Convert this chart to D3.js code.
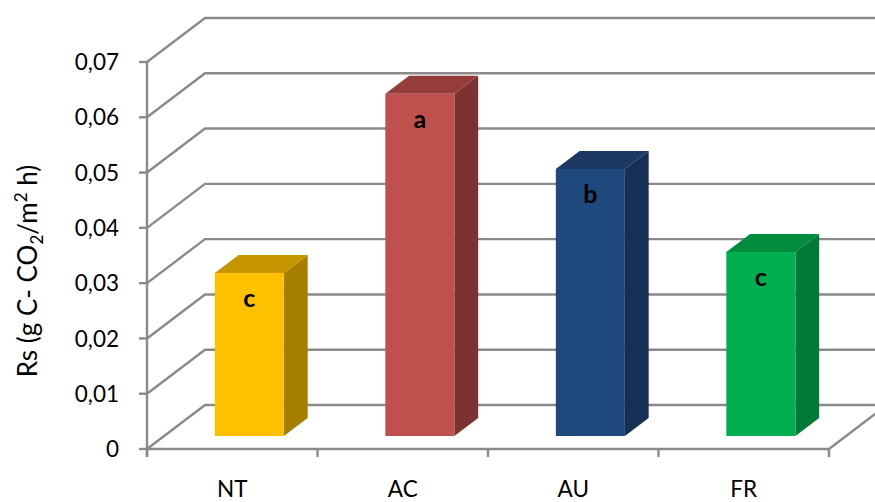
<!DOCTYPE html>
<html>
<head>
<meta charset="utf-8">
<script src="https://cdn.jsdelivr.net/npm/d3@7"></script>
<style>
  html, body { margin: 0; padding: 0; background: #fff; }
  svg { display: block; }
</style>
</head>
<body>
<svg id="chart" width="875" height="502"></svg>
<script>
// ---- data ----
const categories = ["NT", "AC", "AU", "FR"];
const values = [0.0295, 0.0619, 0.0483, 0.0333];
const letters = ["c", "a", "b", "c"];
const tickValues = [0, 0.01, 0.02, 0.03, 0.04, 0.05, 0.06, 0.07];
const tickLabels = ["0", "0,01", "0,02", "0,03", "0,04", "0,05", "0,06", "0,07"];
const frontColors = ["#FFC000", "#C0504D", "#1F497D", "#00B050"];
const topColors = ["#C69600", "#953D3B", "#1B3962", "#008C3E"];
const sideColors = ["#A67E00", "#7C3230", "#162F52", "#007A36"];

// ---- layout ----
const svg = d3.select("#chart");
const x0 = 147, x1 = 829;          // front plane horizontal extent
const y = d3.scaleLinear().domain([0, 0.07]).range([449, 62]);
const depthDX = 58, depthDY = -44; // full depth offset (oblique)
const x = d3.scaleBand().domain(categories).range([x0, x1]).padding(0);
const barFrac = 0.405;
const dFront = 0.295, dBack = 0.705;
const gridColor = "#8a8a8a";
const font = "Lato, 'Open Sans', sans-serif";

const grid = svg.append("g");
tickValues.forEach(v => {
  const yf = y(v);
  grid.append("path")
    .attr("d", `M${x0},${yf} L${x0 + depthDX},${yf + depthDY} L${x1 + depthDX + 20},${yf + depthDY}`)
    .attr("fill", "none").attr("stroke", gridColor).attr("stroke-width", 2.4)
    .attr("stroke-linejoin", "miter");
});
grid.append("path")
  .attr("d", `M${x0},${y(0)} L${x1},${y(0)} L${x1 + depthDX},${y(0) + depthDY}`)
  .attr("fill", "none").attr("stroke", gridColor).attr("stroke-width", 2.4);
grid.append("line")
  .attr("x1", x0).attr("x2", x0).attr("y1", y(0.07)).attr("y2", y(0) + 8)
  .attr("stroke", gridColor).attr("stroke-width", 2.4);
tickValues.forEach(v => {
  grid.append("line").attr("x1", x0 - 8).attr("x2", x0).attr("y1", y(v)).attr("y2", y(v))
    .attr("stroke", gridColor).attr("stroke-width", 2.4);
});
const bounds = categories.map(c => x(c)).concat([x1]);
bounds.forEach(bx => {
  grid.append("line").attr("x1", bx).attr("x2", bx).attr("y1", y(0)).attr("y2", y(0) + 8)
    .attr("stroke", gridColor).attr("stroke-width", 2.4);
});

svg.append("g").selectAll("text").data(tickValues).join("text")
  .attr("x", 119).attr("y", d => y(d)).attr("dy", "0.36em")
  .attr("text-anchor", "end").attr("font-family", font).attr("font-size", 22.5)
  .attr("fill", "#000").text((d, i) => tickLabels[i]);

svg.append("g").selectAll("text").data(categories).join("text")
  .attr("x", d => x(d) + x.bandwidth() / 2).attr("y", 497)
  .attr("text-anchor", "middle").attr("font-family", font).attr("font-size", 22.5)
  .attr("fill", "#000").text(d => d);

const bars = svg.append("g");
categories.forEach((c, i) => {
  const bw = x.bandwidth() * barFrac;
  const cx = x(c) + x.bandwidth() / 2;
  const fx = depthDX * dFront, fy = depthDY * dFront;
  const bx = depthDX * dBack, by = depthDY * dBack;
  const xl = cx - bw / 2 + fx, xr = cx + bw / 2 + fx;
  const yTop = y(values[i]) + fy, yBot = y(0) + fy;
  const ddx = bx - fx, ddy = by - fy;
  bars.append("path")
    .attr("d", `M${xr},${yTop} L${xr + ddx},${yTop + ddy} L${xr + ddx},${yBot + ddy} L${xr},${yBot} Z`)
    .attr("fill", sideColors[i]);
  bars.append("path")
    .attr("d", `M${xl},${yTop} L${xl + ddx},${yTop + ddy} L${xr + ddx},${yTop + ddy} L${xr},${yTop} Z`)
    .attr("fill", topColors[i]);
  bars.append("rect")
    .attr("x", xl).attr("y", yTop).attr("width", bw).attr("height", yBot - yTop)
    .attr("fill", frontColors[i]);
  bars.append("text")
    .attr("x", (xl + xr) / 2).attr("y", yTop + 34)
    .attr("text-anchor", "middle").attr("font-family", font).attr("font-weight", "bold")
    .attr("font-size", 25).attr("fill", "#000").text(letters[i]);
});

const title = svg.append("text")
  .attr("transform", "translate(37,271) rotate(-90)")
  .attr("text-anchor", "middle").attr("font-family", font).attr("font-size", 26)
  .attr("fill", "#000");
title.append("tspan").text("Rs (g C- CO");
title.append("tspan").attr("font-size", 17).attr("dy", 6).text("2");
title.append("tspan").attr("dy", -6).text("/m");
title.append("tspan").attr("font-size", 17).attr("dy", -10).text("2");
title.append("tspan").attr("dy", 10).text(" h)");
</script>
</body>
</html>
